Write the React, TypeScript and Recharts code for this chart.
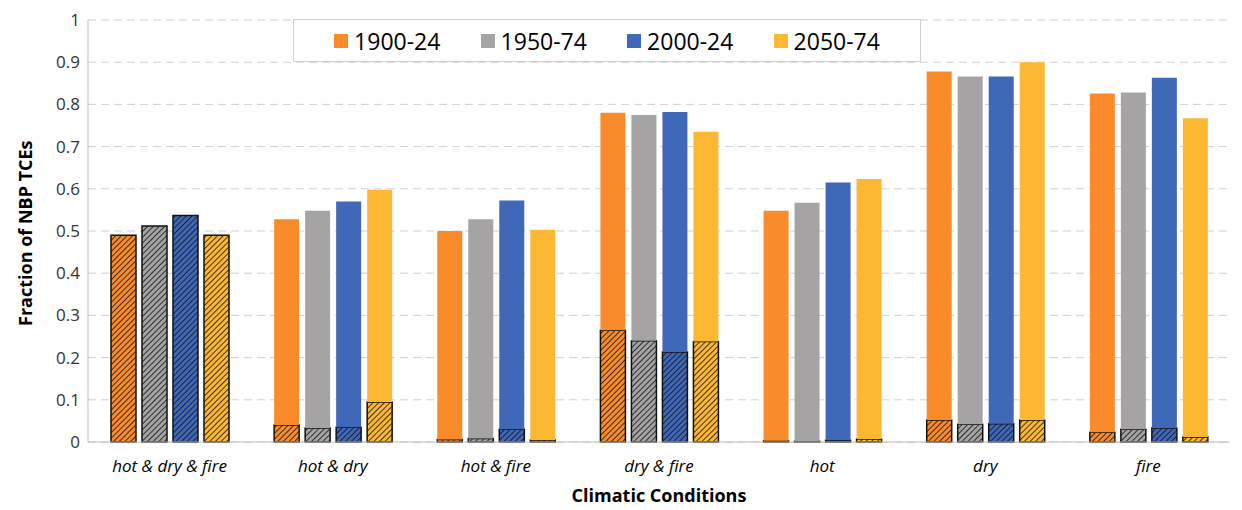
import { Bar, BarChart, CartesianGrid, XAxis, YAxis } from "recharts";

const categories = ["hot & dry & fire", "hot & dry", "hot & fire", "dry & fire", "hot", "dry", "fire"];
const periods = ["1900-24", "1950-74", "2000-24", "2050-74"];
const colors = ["#f98b2a", "#a5a3a3", "#4068b8", "#fdb833"];

// total fraction per period
const total1900 = [0.49, 0.528, 0.5, 0.78, 0.548, 0.878, 0.826];
const total1950 = [0.512, 0.548, 0.528, 0.775, 0.567, 0.866, 0.828];
const total2000 = [0.537, 0.57, 0.572, 0.782, 0.615, 0.866, 0.863];
const total2050 = [0.49, 0.598, 0.503, 0.735, 0.623, 0.9, 0.767];
// hatched (bottom) portion
const hatch1900 = [0.49, 0.04, 0.006, 0.265, 0.003, 0.052, 0.023];
const hatch1950 = [0.512, 0.033, 0.008, 0.24, 0.002, 0.042, 0.03];
const hatch2000 = [0.537, 0.035, 0.03, 0.213, 0.004, 0.043, 0.033];
const hatch2050 = [0.49, 0.095, 0.005, 0.238, 0.007, 0.052, 0.012];

const totals = [total1900, total1950, total2000, total2050];
const hatches = [hatch1900, hatch1950, hatch2000, hatch2050];

const data = categories.map((c, i) => {
  const row: any = { c };
  periods.forEach((_, k) => {
    row["h" + k] = hatches[k][i];
    row["s" + k] = +(totals[k][i] - hatches[k][i]).toFixed(3);
  });
  return row;
});

const font = "Open Sans, sans-serif";

export default function App() {
  return (
    <div style={{ position: "absolute", left: 0, top: 0, width: 1242, height: 510, background: "#fff", fontFamily: font }}>
      <BarChart width={1242} height={510} data={data} margin={{ top: 20, right: 12, left: 30, bottom: 38 }} barSize={25} barGap={6}>
        <defs>
          {colors.map((col, k) => (
            <pattern key={k} id={"hp" + k} width="4" height="4" patternUnits="userSpaceOnUse" patternTransform="rotate(45)">
              <rect width="4" height="4" fill={col} />
              <line x1="0" y1="0" x2="0" y2="4" stroke="#111" strokeWidth="1.6" />
            </pattern>
          ))}
        </defs>
        <CartesianGrid vertical={false} stroke="#d0d0d0" strokeDasharray="8 5" />
        <XAxis
          dataKey="c"
          stroke="#bfbfbf"
          tickLine={false}
          tick={{ fill: "#000", fontSize: 17, fontStyle: "italic", fontFamily: font }}
          tickMargin={12}
          label={{ value: "Climatic Conditions", position: "insideBottom", offset: -30, fill: "#000", fontSize: 18, fontWeight: "bold" }}
        />
        <YAxis
          domain={[0, 1]}
          ticks={[0, 0.1, 0.2, 0.3, 0.4, 0.5, 0.6, 0.7, 0.8, 0.9, 1]}
          stroke="#bfbfbf"
          tickLine={false}
          width={58}
          tick={{ fill: "#333", fontSize: 17, fontFamily: font }}
          label={{ value: "Fraction of NBP TCEs", angle: -90, position: "insideLeft", offset: 0, dx: -4, dy: 95, fill: "#000", fontSize: 18, fontWeight: "bold" }}
        />
        {periods.flatMap((p, k) => [
          <Bar key={"h" + k} dataKey={"h" + k} stackId={"p" + k} fill={`url(#hp${k})`} stroke="#111" strokeWidth={1.5} isAnimationActive={false} />,
          <Bar key={"s" + k} dataKey={"s" + k} stackId={"p" + k} fill={colors[k]} isAnimationActive={false} />,
        ])}
      </BarChart>
      <div
        style={{
          position: "absolute", left: 293, top: 19, width: 628, height: 43, border: "1px solid #d0d0d0", background: "#fff",
          display: "flex", alignItems: "center", justifyContent: "space-around", padding: "0 20px", boxSizing: "border-box", fontSize: 23,
        }}
      >
        {periods.map((p, k) => (
          <span key={p} style={{ display: "flex", alignItems: "center" }}>
            <span style={{ width: 14, height: 14, background: colors[k], marginRight: 6 }} />
            {p}
          </span>
        ))}
      </div>
    </div>
  );
}
